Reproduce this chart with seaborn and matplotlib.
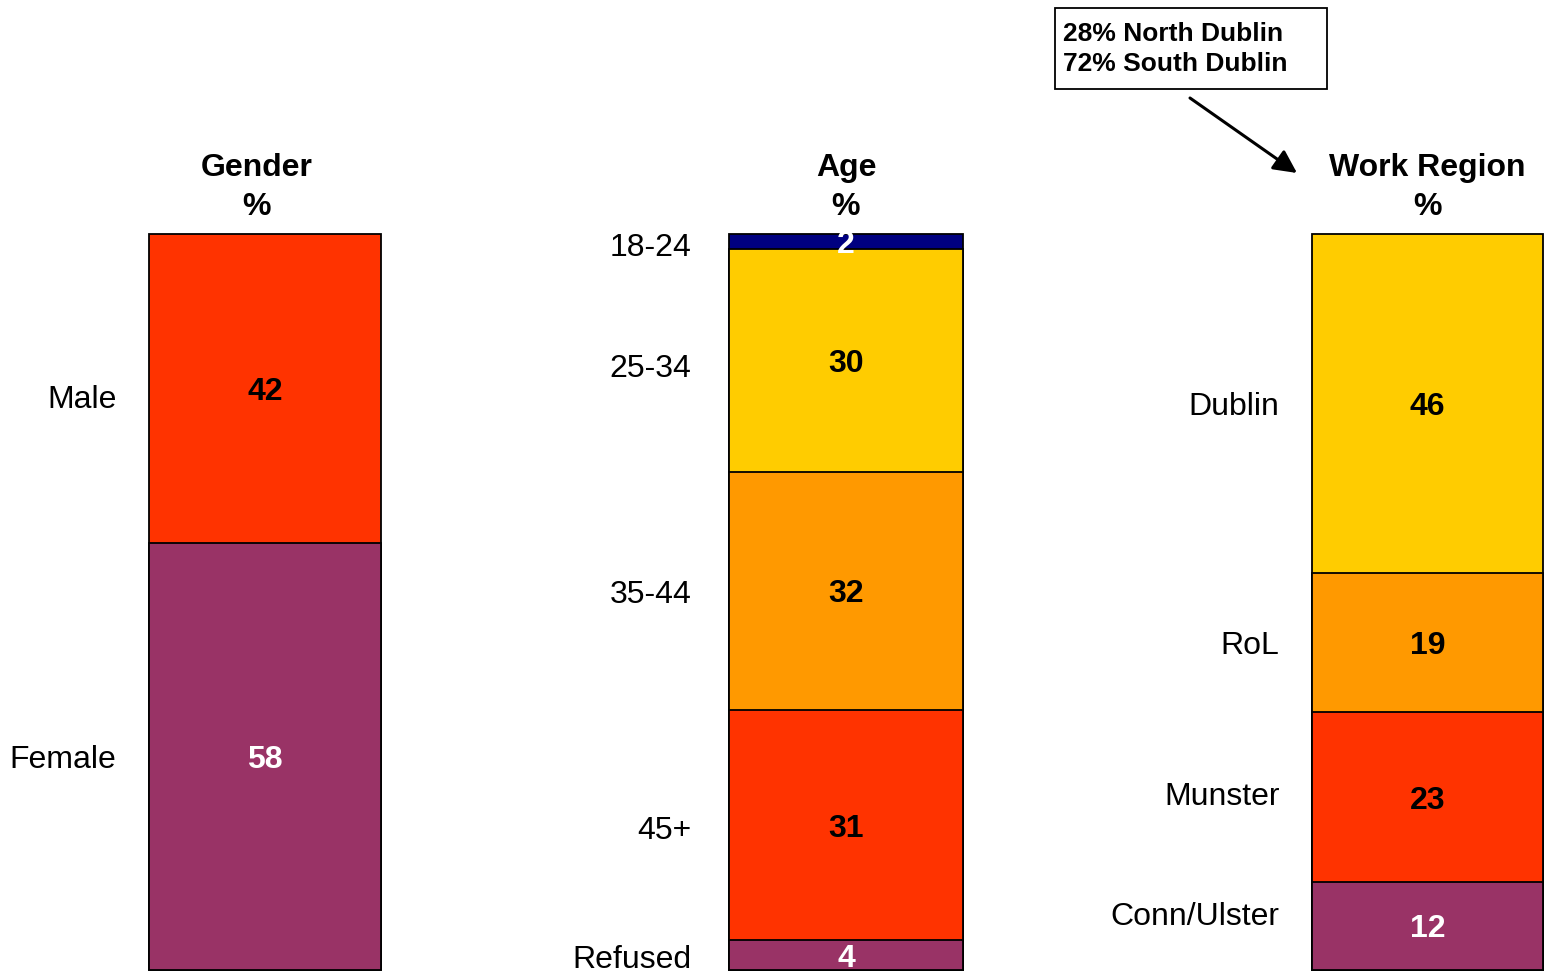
import numpy as np
import matplotlib
matplotlib.use("Agg")
import matplotlib.pyplot as plt
import seaborn as sns
from matplotlib.patches import Rectangle

# ------------------------
# 1. Data (segments listed top to bottom)
# ------------------------
gender_labels = ["Male", "Female"]
gender_values = [42, 58]

age_labels = ["18-24", "25-34", "35-44", "45+", "Refused"]
age_values = [2, 30, 32, 31, 4]

region_labels = ["Dublin", "RoL", "Munster", "Conn/Ulster"]
region_values = [46, 19, 23, 12]

RED, PURPLE, NAVY = "#FF3300", "#993366", "#000080"
YELLOW, ORANGE = "#FFCC00", "#FF9900"

gender_colors = [RED, PURPLE]
age_colors = [NAVY, YELLOW, ORANGE, RED, PURPLE]
region_colors = [YELLOW, ORANGE, RED, PURPLE]

annotation_text = "28% North Dublin\n72% South Dublin"

# ------------------------
# 2. Style
# ------------------------
sns.set_style("white")
plt.rcParams["font.family"] = ["Liberation Sans", "DejaVu Sans"]
plt.rcParams["text.color"] = "black"

W, H = 1550, 976
FS = 23
fig = plt.figure(figsize=(W / 100, H / 100), dpi=100)


def px_axes(x0, x1, y_top, y_bot):
    return fig.add_axes([x0 / W, 1 - y_bot / H, (x1 - x0) / W, (y_bot - y_top) / H])


def stacked_bar(ax, title, labels, values, colors, title_dx=0.0, label_dx=-0.64,
                nudge_px=None):
    total = sum(values)
    px_per_unit = 736 / total
    nudge_px = nudge_px or [0] * len(values)
    # cumulative heights from the bottom of the bar
    vals_up = list(reversed(values))
    cols_up = list(reversed(colors))
    cum = np.cumsum(vals_up)
    # tallest first so the shorter ones sit on top -> stacked look
    for i in range(len(cum) - 1, -1, -1):
        sns.barplot(x=[title], y=[cum[i]], color=cols_up[i], width=1.0,
                    edgecolor="black", linewidth=1.3, saturation=1, ax=ax)
    for p in ax.patches:
        p.set_clip_on(False)
    ax.set_xlim(-0.5, 0.5)
    ax.set_ylim(0, total)
    ax.axis("off")

    top = total
    for lab, val, col, nd in zip(labels, values, colors, nudge_px):
        mid = top - val / 2
        txt_col = "white" if col in (PURPLE, NAVY) else "black"
        ax.text(0, mid, f"{val}", ha="center", va="center_baseline", fontsize=FS,
                fontweight="bold", color=txt_col)
        ax.text(label_dx, mid - nd / px_per_unit, lab, ha="right",
                va="center_baseline", fontsize=FS, color="black")
        top -= val

    ax.text(0.5 + title_dx, 1.016, title + "\n%", transform=ax.transAxes,
            ha="center", va="bottom", fontsize=FS, fontweight="bold",
            linespacing=1.4)


ax1 = px_axes(149, 381, 234, 970)
stacked_bar(ax1, "Gender", gender_labels, gender_values, gender_colors,
            title_dx=-0.035, nudge_px=[8, 0])

ax2 = px_axes(729, 963, 234, 970)
stacked_bar(ax2, "Age", age_labels, age_values, age_colors, label_dx=-0.66,
            nudge_px=[3, 5, 1, 2, 1])

ax3 = px_axes(1312, 1543, 234, 970)
stacked_bar(ax3, "Work Region", region_labels, region_values, region_colors,
            nudge_px=[0, 0, -4, -12])

# ------------------------
# 3. Annotation box + arrow
# ------------------------
fig.add_artist(Rectangle((1055 / W, 1 - 89 / H), (1327 - 1055) / W, (89 - 8) / H,
                         transform=fig.transFigure, facecolor="white",
                         edgecolor="black", linewidth=1.3))
fig.text(1063 / W, 1 - 49 / H, annotation_text, ha="left", va="center",
         fontsize=19, fontweight="bold", linespacing=1.35)

fig.add_artist(plt.Annotation("", xy=(1297 / W, 1 - 173 / H), xytext=(1190 / W, 1 - 98 / H),
                              xycoords="figure fraction", textcoords="figure fraction",
                              arrowprops=dict(arrowstyle="-|>", lw=2.2, color="black",
                                              mutation_scale=35, shrinkA=0, shrinkB=0)))

fig.savefig("out.png", dpi=100)
